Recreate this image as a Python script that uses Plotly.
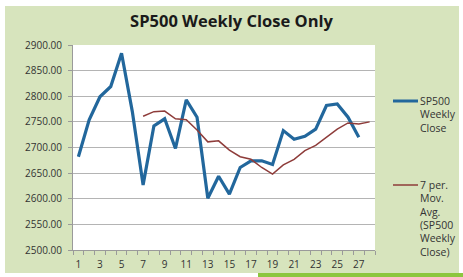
import plotly.graph_objects as go

weeks = list(range(1, 29))
sp500_close = [2682, 2754, 2799, 2819, 2884, 2770, 2627, 2742, 2756, 2698,
               2793, 2759, 2601, 2644, 2609, 2661, 2674, 2674, 2667, 2733,
               2716, 2722, 2736, 2782, 2785, 2759, 2720, None]
mov_avg = [None] * 6 + [2761, 2770, 2771, 2756, 2754, 2734, 2711, 2713, 2695,
                        2682, 2677, 2661, 2648, 2666, 2677, 2694, 2704, 2720,
                        2736, 2748, 2746, 2750]
y_ticks = [2500, 2550, 2600, 2650, 2700, 2750, 2800, 2850, 2900]
x_labels = list(range(1, 28, 2))
legend_close = ["SP500", "Weekly", "Close"]
legend_avg = ["7 per.", "Mov.", "Avg.", "(SP500", "Weekly", "Close)"]

W, H = 463, 277
L, R, T, B = 73, 375, 45, 250
GREEN = "#d7e4bd"
FONT = "Open Sans"
BLUE = "#22679c"
RED = "#8e3c3a"

fig = go.Figure()
fig.add_trace(go.Scatter(x=weeks, y=sp500_close, mode="lines",
                         name="SP500 Weekly Close",
                         line=dict(color=BLUE, width=3.2)))
fig.add_trace(go.Scatter(x=weeks, y=mov_avg, mode="lines",
                         name="7 per. Mov. Avg. (SP500 Weekly Close)",
                         line=dict(color=RED, width=1.5)))

def px_x(p):
    return (p - L) / (R - L)

def px_y(p):
    return (B - p) / (B - T)

shapes = []
for x0, y0, x1, y1, col in [
    (0, 0, W, 6, "white"), (0, 0, 5, H, "white"), (459, 0, W, H, "white"),
    (0, 273, W, H, "white"), (258, 273, W, H, "#8cc63e")]:
    shapes.append(dict(type="rect", xref="paper", yref="paper",
                       x0=px_x(x0), x1=px_x(x1), y0=px_y(y1), y1=px_y(y0),
                       fillcolor=col, line=dict(width=0), layer="above"))

# manual legend
annotations = []
for lines, y0, col, lw in [(legend_close, 101, BLUE, 3), (legend_avg, 185, RED, 1.5)]:
    shapes.append(dict(type="line", xref="paper", yref="paper",
                       x0=px_x(393), x1=px_x(418), y0=px_y(y0), y1=px_y(y0),
                       line=dict(color=col, width=lw)))
    for i, t in enumerate(lines):
        annotations.append(dict(text=t, xref="paper", yref="paper",
                                x=px_x(418), y=px_y(y0 + i * 13.3),
                                xanchor="left", yanchor="middle", showarrow=False,
                                font=dict(family=FONT, size=10.5, color="#333333")))

fig.update_layout(
    width=W, height=H,
    margin=dict(l=L, r=W - R, t=T, b=H - B),
    paper_bgcolor=GREEN, plot_bgcolor="white",
    font=dict(family=FONT, size=10, color="#333333"),
    title=dict(text="<b>SP500 Weekly Close Only</b>", x=0.5, xref="container",
               y=1 - 21 / H, yref="container", yanchor="middle", xanchor="center",
               font=dict(family=FONT, size=16.5, color="#1a1a1a")),
    showlegend=False,
    shapes=shapes,
    annotations=annotations,
    xaxis=dict(range=[0.5, 28.5], tickmode="array", tickvals=x_labels,
               ticktext=[str(v) for v in x_labels], ticks="", showgrid=False,
               showline=True, linecolor="#9a9a9a", linewidth=1, zeroline=False,
               ticklabelstandoff=5, automargin=False,
               tickfont=dict(size=10, color="#333333"),
               minor=dict(tickmode="array", tickvals=[i + 0.5 for i in range(29)],
                          ticks="outside", ticklen=4, tickcolor="#9a9a9a",
                          showgrid=False)),
    yaxis=dict(range=[2500, 2900], tickmode="array", tickvals=y_ticks,
               ticktext=[f"{v:.2f}" for v in y_ticks], ticks="outside", ticklen=4,
               tickcolor="#9a9a9a", showgrid=True, gridcolor="#b4b4b4",
               gridwidth=1, showline=True, linecolor="#9a9a9a", zeroline=False,
               ticklabelstandoff=4, automargin=False,
               tickfont=dict(size=10, color="#333333")),
)

fig.write_html("out.html")
